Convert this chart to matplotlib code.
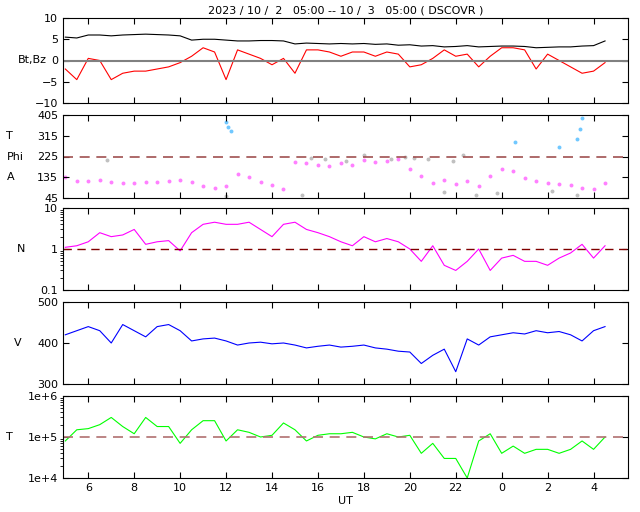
import numpy as np
import matplotlib
matplotlib.use("Agg")
import matplotlib.pyplot as plt
from matplotlib.ticker import FixedLocator, LogLocator, NullFormatter

# half-hourly values, 05:00 (10/2) .. 04:30 (10/3), hours counted from 10/2 00:00
bt = [5.5, 5.3, 6.0, 6.0, 5.8, 6.0, 6.1, 6.2, 6.1, 6.0, 5.8, 4.8, 5.0, 5.0, 4.8, 4.6,
      4.6, 4.7, 4.7, 4.6, 3.9, 4.1, 4.0, 3.9, 4.0, 3.9, 4.0, 3.8, 3.9, 3.6, 3.7, 3.4,
      3.5, 3.2, 3.3, 3.5, 3.2, 3.3, 3.4, 3.4, 3.3, 3.0, 3.1, 3.2, 3.2, 3.4, 3.5, 4.6]
bz = [-2, -4.5, 0.5, 0, -4.5, -3, -2.5, -2.5, -2, -1.5, -0.5, 1, 3, 2, -4.5, 2.5,
      1.5, 0.5, -1, 0.5, -3, 2.5, 2.5, 2, 1, 2, 2, 1, 2, 1.5, -1.5, -1,
      0.5, 2.5, 1, 1.5, -1.5, 1, 3, 3, 2.5, -2, 1.5, 0, -1.5, -3, -2.5, -0.5]
phi_a = [135, 120, 118, 125, 115, 112, 112, 113, 115, 118, 125, 115, 95, 90, 98, 150,
         135, 115, 100, 85, 200, 195, 190, 185, 195, 190, 210, 200, 205, 215, 170, 140,
         110, 125, 105, 120, 95, 140, 170, 160, 130, 120, 110, 105, 100, 90, 85, 110]
gray_t = [6.8, 12.0, 15.3, 15.7, 16.3, 17.2, 18.0, 19.2, 19.8, 20.2, 20.8, 21.5, 21.9, 22.3, 22.9, 23.8, 26.2, 27.3]
gray_phi = [210, 55, 60, 220, 215, 205, 230, 215, 225, 220, 215, 70, 205, 230, 60, 65, 75, 60]
blue_t = [12.0, 12.1, 12.2, 24.6, 26.5, 27.3, 27.4, 27.5]
blue_phi = [375, 355, 335, 290, 265, 300, 345, 390]
dens = [1.1, 1.2, 1.5, 2.5, 2, 2.2, 3, 1.3, 1.5, 1.6, 0.9, 2.5, 4, 4.5, 4, 4,
        4.5, 3, 2, 4, 4.5, 3, 2.5, 2, 1.5, 1.2, 2, 1.5, 1.8, 1.5, 1, 0.5,
        1.2, 0.4, 0.3, 0.5, 1, 0.3, 0.6, 0.7, 0.5, 0.5, 0.4, 0.6, 0.8, 1.3, 0.6, 1.2]
vel = [420, 430, 440, 430, 400, 445, 430, 415, 440, 445, 430, 405, 410, 412, 405, 395,
       400, 402, 398, 400, 395, 388, 392, 395, 390, 392, 395, 388, 385, 380, 378, 350,
       370, 385, 330, 410, 395, 415, 420, 425, 422, 430, 425, 428, 420, 405, 430, 440]
temp = [8e4, 1.5e5, 1.6e5, 2e5, 3e5, 1.8e5, 1.2e5, 3e5, 1.8e5, 1.8e5, 7e4, 1.5e5, 2.5e5, 2.5e5, 8e4, 1.5e5,
        1.3e5, 1e5, 1.1e5, 2.2e5, 1.5e5, 8e4, 1.1e5, 1.2e5, 1.2e5, 1.3e5, 1e5, 9e4, 1.2e5, 1e5, 1.1e5, 4e4,
        7e4, 3e4, 3e4, 1e4, 8e4, 1.2e5, 4e4, 6e4, 4e4, 5e4, 5e4, 4e4, 5e4, 8e4, 5e4, 1e5]

t = 5 + 0.5 * np.arange(len(bt))

fig = plt.figure(figsize=(6.4, 5.12), dpi=100)
L, W = 63 / 640, 565 / 640
rows = [(18, 103), (115, 198), (208, 290), (302, 384), (396, 478)]
axes = [fig.add_axes([L, 1 - b / 512, W, (b - a) / 512]) for a, b in rows]
fs = 8
for ax in axes:
    ax.set_xlim(4.9, 29.5)
    ax.set_xticks(np.arange(6, 29, 2))
    ax.tick_params(direction="in", top=True, right=True, labelsize=fs, length=4)
    ax.set_xticklabels([])
axes[-1].set_xticklabels([str(int(h) % 24) for h in np.arange(6, 29, 2)])
axes[-1].set_xlabel("UT", fontsize=fs, labelpad=2)

ax = axes[0]
ax.plot(t, bt, color="black", lw=0.8)
ax.plot(t, bz, color="red", lw=0.8)
ax.axhline(0, color="gray", lw=1.5)
ax.set_ylim(-10, 10)
ax.set_yticks([-10, -5, 0, 5, 10])
ax.set_ylabel("Bt,Bz", rotation=0, fontsize=fs, labelpad=2, va="center")
ax.set_title("2023 / 10 /  2   05:00 -- 10 /  3   05:00 ( DSCOVR )", fontsize=fs, pad=3)

ax = axes[1]
ax.scatter(t, phi_a, s=8, color="#ff80ff", lw=0)
ax.scatter(gray_t, gray_phi, s=8, color="#c0c0c0", lw=0)
ax.scatter(blue_t, blue_phi, s=8, color="#70c8ff", lw=0)
ax.axhline(225, color="#a05050", ls=(0, (6, 4)), lw=1.2)
ax.set_ylim(45, 405)
ax.set_yticks([45, 135, 225, 315, 405])
for y, s in [(315, "T"), (225, "Phi"), (135, "A")]:
    ax.text(-0.1, y, s, transform=ax.get_yaxis_transform(), fontsize=fs, ha="left", va="center")

ax = axes[2]
ax.plot(t, dens, color="magenta", lw=0.8)
ax.axhline(1, color="#800000", ls=(0, (6, 4)), lw=1)
ax.set_yscale("log")
ax.set_ylim(0.1, 10)
ax.yaxis.set_major_locator(FixedLocator([0.1, 1, 10]))
ax.set_yticklabels(["0.1", "1", "10"])
ax.yaxis.set_minor_locator(LogLocator(subs=np.arange(2, 10)))
ax.yaxis.set_minor_formatter(NullFormatter())
ax.set_ylabel("N", rotation=0, fontsize=fs, labelpad=14, va="center")

ax = axes[3]
ax.plot(t, vel, color="blue", lw=0.8)
ax.set_ylim(300, 500)
ax.set_yticks([300, 400, 500])
ax.set_ylabel("V", rotation=0, fontsize=fs, labelpad=14, va="center")

ax = axes[4]
ax.plot(t, temp, color="#00ff00", lw=0.8)
ax.axhline(1e5, color="#b07070", ls=(0, (6, 4)), lw=1.2)
ax.set_yscale("log")
ax.set_ylim(1e4, 1e6)
ax.yaxis.set_major_locator(FixedLocator([1e4, 1e5, 1e6]))
ax.set_yticklabels(["1e+4", "1e+5", "1e+6"])
ax.yaxis.set_minor_locator(LogLocator(subs=np.arange(2, 10)))
ax.yaxis.set_minor_formatter(NullFormatter())
ax.text(-0.1, 1e5, "T", transform=ax.get_yaxis_transform(), fontsize=fs, ha="left", va="center")

fig.savefig("out.png", dpi=100)
